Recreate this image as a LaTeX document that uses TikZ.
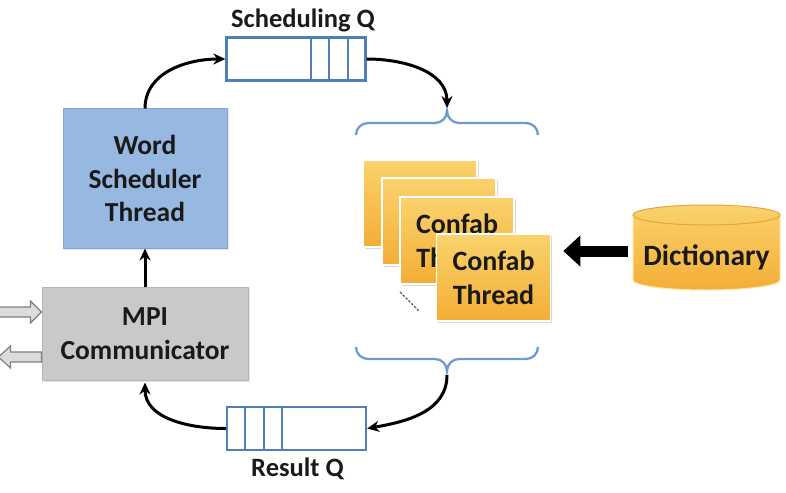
\documentclass[tikz,border=0pt]{standalone}
\usepackage{fontspec}
\setmainfont{Carlito}
\usetikzlibrary{arrows.meta,shadows,calc}
\definecolor{qblue}{HTML}{4F7FB8}
\definecolor{brblue}{HTML}{6C9BD2}
\definecolor{wsfill}{HTML}{97B8E0}
\definecolor{wsdraw}{HTML}{82A5D2}
\definecolor{mpifill}{HTML}{C9C9C9}
\definecolor{mpidraw}{HTML}{B5B5B5}
\definecolor{ytop}{HTML}{FAD26C}
\definecolor{ybot}{HTML}{F3AE36}
\definecolor{ydraw}{HTML}{E2A73A}
\definecolor{txt}{HTML}{1A1A1A}
\definecolor{hollow}{HTML}{7F7F7F}
\definecolor{hollowfill}{HTML}{DCDCDC}
\begin{document}
\begin{tikzpicture}[x=1pt,y=-1pt,
  lbl/.style={font=\fontsize{27.5}{33.5}\selectfont\bfseries, text=txt, align=center},
  wsbox/.style={lbl, draw=wsdraw, line width=1pt, fill=wsfill, minimum width=164pt, minimum height=139pt, inner sep=0pt,
    drop shadow={opacity=0.2, shadow xshift=1.5pt, shadow yshift=-1.5pt}},
  mpibox/.style={lbl, draw=mpidraw, line width=1pt, fill=mpifill, minimum width=206pt, minimum height=93pt, inner sep=0pt,
    drop shadow={opacity=0.2, shadow xshift=1.5pt, shadow yshift=-1.5pt}},
  queue/.style={draw=qblue, line width=2.3pt, fill=white, minimum width=139pt, minimum height=43pt, inner sep=0pt},
  qdiv/.style={draw=qblue, line width=2.3pt},
  confab/.style={lbl, font=\fontsize{28}{34}\selectfont\bfseries, draw=white, line width=1.5pt, top color=ytop, bottom color=ybot,
    minimum width=114pt, minimum height=87pt, inner sep=0pt,
    drop shadow={opacity=0.3, shadow xshift=1.5pt, shadow yshift=-1.5pt}},
  flow/.style={line width=3pt, -{Stealth[length=12pt,width=11pt]}},
  brace/.style={draw=brblue, line width=2.3pt},
  hollowarrow/.style={draw=hollow, fill=hollowfill, line width=1.2pt, line join=miter},
  bigarrow/.style={line width=11pt, -{Triangle[width=30pt,length=17pt]}},
  qlabel/.style={lbl, font=\fontsize{26.5}{31}\selectfont\bfseries}
]
\useasboundingbox (0,0) rectangle (786,492);

% boxes
\node[wsbox] (ws) at (145,178.5) {Word\\Scheduler\\Thread};
\node[mpibox] (mpi) at (145,333.5) {MPI\\Communicator};

% queues
\node[queue] (sq) at (296,59) {};
\foreach \d in {19,38,56} \draw[qdiv] ($(sq.north east)+(-\d,0)$) -- ($(sq.south east)+(-\d,0)$);
\node[qlabel, anchor=south] (sql) at ($(sq.north)+(7,-1)$) {Scheduling Q};

\node[queue] (rq) at (296.5,428.5) {};
\foreach \d in {19,38,56} \draw[qdiv] ($(rq.north west)+(\d,0)$) -- ($(rq.south west)+(\d,0)$);
\node[qlabel, anchor=north] (rql) at ($(rq.south)+(1,3)$) {Result Q};

% braces
\draw[brace] (356,135) to[out=90,in=180] (368,123) -- (435,123) to[out=0,in=-90] (447,111)
  to[out=-90,in=180] (459,123) -- (526,123) to[out=0,in=90] (538,135);
\draw[brace] (356,347) to[out=-90,in=180] (368,359) -- (435,359) to[out=0,in=90] (447,371)
  to[out=90,in=180] (459,359) -- (526,359) to[out=0,in=-90] (538,347);
\coordinate (btop) at (447,108);
\coordinate (bbot) at (447,375);

% confab threads
\node[confab] (c1) at (420,203.5) {};
\node[confab] (c2) at (439,221.5) {};
\node[confab] (c3) at (457,240.5) {Confab\\Thread};
\coordinate (dots1) at (400,292);
\coordinate (dots2) at (419,311);
\draw[line width=1.3pt, draw=black!65, dash pattern=on 2.5pt off 1.5pt] (dots1) -- (dots2);
\node[confab] (c4) at (493.5,277.5) {Confab\\Thread};

% dictionary
\shade[top color=ytop, bottom color=ybot, draw=ytop!60!white, line width=1pt]
  (633,215) -- (633,280) arc[start angle=180, end angle=0, x radius=73.5, y radius=10]
  -- (780,215) arc[start angle=0, end angle=-180, x radius=73.5, y radius=10] -- cycle;
\draw[ydraw, line width=1pt] (706.5,215) ellipse[x radius=73.5, y radius=10];
\node[lbl, font=\fontsize{29.5}{34}\selectfont\bfseries] (dict) at (706.5,257) {Dictionary};
\coordinate (dictw) at (628,251);
\draw[bigarrow] (dictw) -- ($(dictw -| c4.east)+(12,0)$);

% flow arrows
\draw[flow] (ws.north) to[out=90,in=180] (sq.west);
\draw[flow] (sq.east) to[out=0,in=90] (btop);
\draw[flow] (bbot) to[out=-90,in=10] (rq.east);
\draw[flow] (rq.west) to[out=180,in=-90] ($(mpi.south)+(0,2)$);
\draw[flow] (mpi.north) -- (ws.south);

% external in/out arrows
\coordinate (inA) at ($(mpi.west)+(0,-21.5)$);
\coordinate (outA) at ($(mpi.west)+(0,23.5)$);
\draw[hollowarrow] ($(inA)+(-44,-5)$) -- ($(inA)+(-11,-5)$) -- ($(inA)+(-11,-11)$) -- (inA)
  -- ($(inA)+(-11,11)$) -- ($(inA)+(-11,5)$) -- ($(inA)+(-44,5)$) -- cycle;
\draw[hollowarrow] ($(outA)+(0,-5)$) -- ($(outA)+(-31,-5)$) -- ($(outA)+(-31,-11)$) -- ($(outA)+(-43,0)$)
  -- ($(outA)+(-31,11)$) -- ($(outA)+(-31,5)$) -- ($(outA)+(0,5)$) -- cycle;
\end{tikzpicture}
\end{document}
